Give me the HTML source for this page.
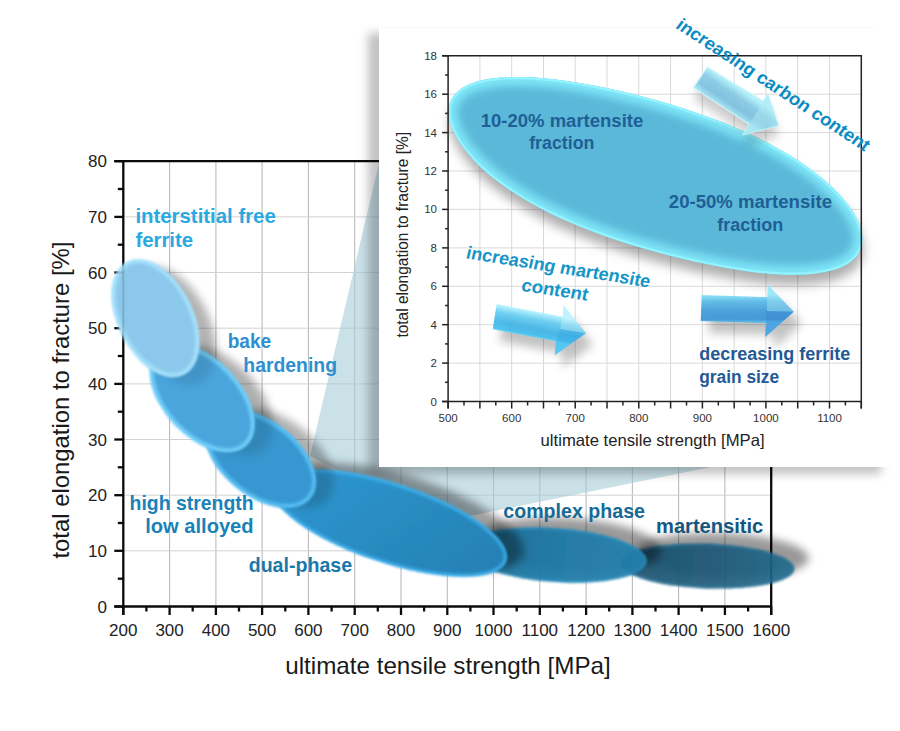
<!DOCTYPE html>
<html><head><meta charset="utf-8"><title>chart</title>
<style>html,body{margin:0;padding:0;background:#fff;}svg{display:block;}text{font-family:"Liberation Sans",sans-serif;}</style>
</head><body>
<svg width="900" height="731" viewBox="0 0 900 731">
<defs>
<filter id="sh" x="-30%" y="-60%" width="160%" height="220%"><feGaussianBlur stdDeviation="4.5"/></filter>
<filter id="shI" x="-10%" y="-10%" width="120%" height="120%"><feGaussianBlur stdDeviation="5"/></filter>
<filter id="rim" x="-10%" y="-10%" width="120%" height="120%"><feGaussianBlur stdDeviation="1.3"/></filter>
<filter id="rim2" x="-10%" y="-10%" width="120%" height="120%"><feGaussianBlur stdDeviation="4.5"/></filter>
<clipPath id="ci"><ellipse rx="215" ry="72"/></clipPath>
<clipPath id="cm"><rect x="123.3" y="161" width="647.9" height="445.5"/></clipPath>
<filter id="shE" x="-10%" y="-20%" width="120%" height="150%"><feGaussianBlur stdDeviation="5.5"/></filter>
<filter id="shA" x="-30%" y="-50%" width="160%" height="220%"><feGaussianBlur stdDeviation="5"/></filter>
<filter id="b1" x="-10%" y="-10%" width="120%" height="120%"><feGaussianBlur stdDeviation="0.7"/></filter>
<clipPath id="cI"><path d="M448.7,109.3 C449.0,106.0 449.8,102.7 451.3,99.7 C452.9,96.7 455.0,93.9 457.9,91.4 C460.7,88.9 464.3,86.6 468.5,84.8 C472.7,82.9 477.7,81.3 483.2,80.1 C488.6,78.9 494.8,78.0 501.3,77.5 C507.9,77.0 515.0,76.9 522.4,77.0 C529.7,77.2 537.5,77.7 545.3,78.4 C553.2,79.2 561.4,80.2 569.6,81.4 C577.8,82.6 586.1,84.1 594.5,85.7 C602.9,87.3 611.4,89.1 619.9,91.0 C628.5,93.0 637.1,95.1 645.7,97.4 C654.4,99.7 663.1,102.1 671.8,104.8 C680.6,107.5 689.4,110.3 698.1,113.4 C706.9,116.4 715.7,119.7 724.3,123.1 C732.9,126.6 741.4,130.3 749.7,134.1 C757.9,138.0 766.0,142.0 773.7,146.2 C781.3,150.4 788.7,154.7 795.6,159.1 C802.4,163.5 808.9,168.0 814.8,172.4 C820.6,176.9 826.0,181.5 830.9,186.0 C835.7,190.5 840.0,195.0 843.8,199.4 C847.5,203.8 850.7,208.2 853.4,212.4 C856.0,216.7 858.1,220.9 859.6,224.9 C861.1,228.9 862.0,232.9 862.3,236.6 C862.6,240.4 862.3,244.0 861.2,247.3 C860.2,250.7 858.5,253.9 856.0,256.7 C853.6,259.5 850.4,262.1 846.6,264.4 C842.7,266.6 838.1,268.5 833.0,270.0 C827.8,271.5 821.9,272.7 815.5,273.5 C809.2,274.3 802.2,274.7 795.0,274.7 C787.8,274.8 780.1,274.5 772.3,273.9 C764.6,273.4 756.4,272.5 748.4,271.4 C740.3,270.3 732.0,268.9 723.8,267.5 C715.7,266.0 707.4,264.3 699.2,262.6 C691.0,260.8 682.9,258.8 674.7,256.8 C666.5,254.8 658.3,252.6 650.2,250.3 C642.0,248.0 633.8,245.6 625.6,243.0 C617.4,240.4 609.2,237.6 601.1,234.7 C592.9,231.7 584.8,228.6 576.9,225.3 C568.9,222.0 561.0,218.5 553.5,214.9 C546.0,211.3 538.6,207.5 531.7,203.6 C524.8,199.7 518.1,195.6 512.0,191.6 C505.8,187.5 500.1,183.4 494.8,179.3 C489.6,175.1 484.8,171.0 480.4,166.9 C476.1,162.8 472.2,158.7 468.8,154.6 C465.3,150.6 462.3,146.6 459.7,142.6 C457.2,138.7 455.0,134.8 453.3,131.0 C451.5,127.2 450.2,123.4 449.5,119.8 C448.7,116.2 448.4,112.7 448.7,109.3 Z"/></clipPath>
<filter id="soft" x="-5%" y="-5%" width="110%" height="110%"><feGaussianBlur stdDeviation="0.9"/></filter>
<clipPath id="c6"><ellipse rx="87" ry="22.5"/></clipPath>
<clipPath id="c5"><ellipse rx="92" ry="27"/></clipPath>
<clipPath id="c4"><ellipse rx="123" ry="40"/></clipPath>
<clipPath id="c3"><ellipse rx="64" ry="38"/></clipPath>
<clipPath id="c2"><ellipse rx="65" ry="38.5"/></clipPath>
<clipPath id="c1"><ellipse rx="63.2" ry="37.7"/></clipPath>
<linearGradient id="gA1" gradientUnits="userSpaceOnUse" x1="707.3" y1="67" x2="693.3" y2="87.7"><stop offset="0" stop-color="#aaf0fa"/><stop offset="0.3" stop-color="#80c9e6"/><stop offset="0.7" stop-color="#78c2e3"/><stop offset="1" stop-color="#a2ecf8"/></linearGradient>
<linearGradient id="gA2" gradientUnits="userSpaceOnUse" x1="530" y1="311" x2="525.2" y2="336"><stop offset="0" stop-color="#b2f1ff"/><stop offset="0.28" stop-color="#66cdf1"/><stop offset="0.65" stop-color="#43b6e8"/><stop offset="0.9" stop-color="#45c0ee"/><stop offset="1" stop-color="#62dcfb"/></linearGradient>
<linearGradient id="gA3" gradientUnits="userSpaceOnUse" x1="0" y1="294.5" x2="0" y2="322"><stop offset="0" stop-color="#8fe6fb"/><stop offset="0.25" stop-color="#5cb9e6"/><stop offset="0.6" stop-color="#459fd9"/><stop offset="0.9" stop-color="#3f97d6"/><stop offset="1" stop-color="#58b8ec"/></linearGradient>
<linearGradient id="gE4" x1="0" y1="0" x2="1" y2="0.25"><stop offset="0" stop-color="#3199d4"/><stop offset="0.5" stop-color="#2a8ec4"/><stop offset="1" stop-color="#2682b6"/></linearGradient>
<linearGradient id="gE5" x1="0" y1="0" x2="1" y2="0"><stop offset="0" stop-color="#1b6a92"/><stop offset="0.45" stop-color="#1f79a5"/><stop offset="1" stop-color="#2381ae"/></linearGradient>
<linearGradient id="gE6" x1="0" y1="0" x2="1" y2="0"><stop offset="0" stop-color="#174c68"/><stop offset="0.6" stop-color="#1b5a7a"/><stop offset="1" stop-color="#216a8d"/></linearGradient>

</defs>
<rect x="0" y="0" width="900" height="731" fill="#ffffff"/>
<g stroke="#bcbcbc" stroke-width="1.1" fill="none">
<line x1="169.6" y1="161.2" x2="169.6" y2="606.5"/>
<line x1="215.9" y1="161.2" x2="215.9" y2="606.5"/>
<line x1="262.1" y1="161.2" x2="262.1" y2="606.5"/>
<line x1="308.4" y1="161.2" x2="308.4" y2="606.5"/>
<line x1="354.7" y1="161.2" x2="354.7" y2="606.5"/>
<line x1="401.0" y1="161.2" x2="401.0" y2="606.5"/>
<line x1="447.3" y1="161.2" x2="447.3" y2="606.5"/>
<line x1="493.5" y1="161.2" x2="493.5" y2="606.5"/>
<line x1="539.8" y1="161.2" x2="539.8" y2="606.5"/>
<line x1="586.1" y1="161.2" x2="586.1" y2="606.5"/>
<line x1="632.4" y1="161.2" x2="632.4" y2="606.5"/>
<line x1="678.6" y1="161.2" x2="678.6" y2="606.5"/>
<line x1="724.9" y1="161.2" x2="724.9" y2="606.5"/>
</g>
<g stroke="#d2d2d2" stroke-width="1" fill="none">
<line x1="123.3" y1="550.8" x2="771.2" y2="550.8"/>
<line x1="123.3" y1="495.2" x2="771.2" y2="495.2"/>
<line x1="123.3" y1="439.5" x2="771.2" y2="439.5"/>
<line x1="123.3" y1="383.9" x2="771.2" y2="383.9"/>
<line x1="123.3" y1="328.2" x2="771.2" y2="328.2"/>
<line x1="123.3" y1="272.5" x2="771.2" y2="272.5"/>
<line x1="123.3" y1="216.9" x2="771.2" y2="216.9"/>
</g>
<g stroke="#0a0a0a" stroke-width="2.3" fill="none" stroke-linecap="butt">
<path d="M114.3 161.2 H771.2 V615.0"/>
<path d="M123.3 161.2 V615.0"/>
<path d="M114.3 606.5 H771.2"/>
<line x1="123.3" y1="606.5" x2="123.3" y2="615.0"/>
<line x1="146.4" y1="606.5" x2="146.4" y2="611.5"/>
<line x1="169.6" y1="606.5" x2="169.6" y2="615.0"/>
<line x1="192.7" y1="606.5" x2="192.7" y2="611.5"/>
<line x1="215.9" y1="606.5" x2="215.9" y2="615.0"/>
<line x1="239.0" y1="606.5" x2="239.0" y2="611.5"/>
<line x1="262.1" y1="606.5" x2="262.1" y2="615.0"/>
<line x1="285.3" y1="606.5" x2="285.3" y2="611.5"/>
<line x1="308.4" y1="606.5" x2="308.4" y2="615.0"/>
<line x1="331.6" y1="606.5" x2="331.6" y2="611.5"/>
<line x1="354.7" y1="606.5" x2="354.7" y2="615.0"/>
<line x1="377.8" y1="606.5" x2="377.8" y2="611.5"/>
<line x1="401.0" y1="606.5" x2="401.0" y2="615.0"/>
<line x1="424.1" y1="606.5" x2="424.1" y2="611.5"/>
<line x1="447.3" y1="606.5" x2="447.3" y2="615.0"/>
<line x1="470.4" y1="606.5" x2="470.4" y2="611.5"/>
<line x1="493.5" y1="606.5" x2="493.5" y2="615.0"/>
<line x1="516.7" y1="606.5" x2="516.7" y2="611.5"/>
<line x1="539.8" y1="606.5" x2="539.8" y2="615.0"/>
<line x1="562.9" y1="606.5" x2="562.9" y2="611.5"/>
<line x1="586.1" y1="606.5" x2="586.1" y2="615.0"/>
<line x1="609.2" y1="606.5" x2="609.2" y2="611.5"/>
<line x1="632.4" y1="606.5" x2="632.4" y2="615.0"/>
<line x1="655.5" y1="606.5" x2="655.5" y2="611.5"/>
<line x1="678.6" y1="606.5" x2="678.6" y2="615.0"/>
<line x1="701.8" y1="606.5" x2="701.8" y2="611.5"/>
<line x1="724.9" y1="606.5" x2="724.9" y2="615.0"/>
<line x1="748.1" y1="606.5" x2="748.1" y2="611.5"/>
<line x1="771.2" y1="606.5" x2="771.2" y2="615.0"/>
<line x1="114.3" y1="606.5" x2="123.3" y2="606.5"/>
<line x1="117.8" y1="578.7" x2="123.3" y2="578.7"/>
<line x1="114.3" y1="550.8" x2="123.3" y2="550.8"/>
<line x1="117.8" y1="523.0" x2="123.3" y2="523.0"/>
<line x1="114.3" y1="495.2" x2="123.3" y2="495.2"/>
<line x1="117.8" y1="467.3" x2="123.3" y2="467.3"/>
<line x1="114.3" y1="439.5" x2="123.3" y2="439.5"/>
<line x1="117.8" y1="411.7" x2="123.3" y2="411.7"/>
<line x1="114.3" y1="383.9" x2="123.3" y2="383.9"/>
<line x1="117.8" y1="356.0" x2="123.3" y2="356.0"/>
<line x1="114.3" y1="328.2" x2="123.3" y2="328.2"/>
<line x1="117.8" y1="300.4" x2="123.3" y2="300.4"/>
<line x1="114.3" y1="272.5" x2="123.3" y2="272.5"/>
<line x1="117.8" y1="244.7" x2="123.3" y2="244.7"/>
<line x1="114.3" y1="216.9" x2="123.3" y2="216.9"/>
<line x1="117.8" y1="189.0" x2="123.3" y2="189.0"/>
<line x1="114.3" y1="161.2" x2="123.3" y2="161.2"/>
</g>
<g font-size="17" fill="#222" text-anchor="middle">
<text x="123.3" y="636">200</text>
<text x="169.6" y="636">300</text>
<text x="215.9" y="636">400</text>
<text x="262.1" y="636">500</text>
<text x="308.4" y="636">600</text>
<text x="354.7" y="636">700</text>
<text x="401.0" y="636">800</text>
<text x="447.3" y="636">900</text>
<text x="493.5" y="636">1000</text>
<text x="539.8" y="636">1100</text>
<text x="586.1" y="636">1200</text>
<text x="632.4" y="636">1300</text>
<text x="678.6" y="636">1400</text>
<text x="724.9" y="636">1500</text>
<text x="771.2" y="636">1600</text>
</g>
<g font-size="17" fill="#222" text-anchor="end">
<text x="107" y="612.5">0</text>
<text x="107" y="556.8">10</text>
<text x="107" y="501.2">20</text>
<text x="107" y="445.5">30</text>
<text x="107" y="389.9">40</text>
<text x="107" y="334.2">50</text>
<text x="107" y="278.5">60</text>
<text x="107" y="222.9">70</text>
<text x="107" y="167.2">80</text>
</g>
<text x="285.2" y="674" font-size="24" fill="#1a1a1a" textLength="325.6" lengthAdjust="spacingAndGlyphs">ultimate tensile strength [MPa]</text>
<text transform="translate(69.3,558.6) rotate(-90)" font-size="24" fill="#1a1a1a" textLength="317" lengthAdjust="spacingAndGlyphs">total elongation to fracture [%]</text>
<!-- zoom beam -->
<polygon points="310,456 379.5,161 379.5,467 711,467 440,522" fill="#a4ccd8" fill-opacity="0.58"/>
<!-- inset shadow -->
<rect x="368" y="33" width="513" height="441" fill="#000" fill-opacity="0.24" filter="url(#shI)"/>
<!-- base shadows -->
<ellipse transform="translate(278.3,458.5) rotate(38)" rx="64" ry="38" fill="#000" fill-opacity="0.17" filter="url(#sh)"/>
<ellipse transform="translate(219.8,400.7) rotate(47)" rx="65" ry="38.5" fill="#000" fill-opacity="0.22" filter="url(#sh)"/>
<ellipse transform="translate(171.6,325.8) rotate(63.4)" rx="63.2" ry="37.7" fill="#000" fill-opacity="0.22" filter="url(#sh)"/>
<ellipse transform="translate(721.9,555.5) rotate(2)" rx="87" ry="22.5" fill="#000" fill-opacity="0.4" filter="url(#sh)"/>
<g transform="translate(707.5,566) rotate(2)" opacity="0.9" filter="url(#soft)">
  <ellipse rx="87" ry="22.5" fill="url(#gE6)"/>
  <g clip-path="url(#c6)"><ellipse rx="87" ry="22.5" fill="none" stroke="#256f94" stroke-width="4" filter="url(#rim)"/></g>
</g>
<ellipse transform="translate(569.7,545.0) rotate(4)" rx="92" ry="27" fill="#000" fill-opacity="0.4" filter="url(#sh)"/>
<g transform="translate(555,555) rotate(4)" opacity="0.95" filter="url(#soft)">
  <ellipse rx="92" ry="27" fill="url(#gE5)"/>
  <g clip-path="url(#c5)"><ellipse rx="92" ry="27" fill="none" stroke="#2a8dbd" stroke-width="4" filter="url(#rim)"/></g>
</g>
<ellipse transform="translate(406.2,516.9) rotate(18)" rx="123" ry="40" fill="#000" fill-opacity="0.38" filter="url(#sh)"/>
<g transform="translate(389.5,523) rotate(18)" opacity="1" filter="url(#soft)">
  <ellipse rx="123" ry="40" fill="url(#gE4)"/>
  <g clip-path="url(#c4)"><ellipse rx="123" ry="40" fill="none" stroke="#3cb0ee" stroke-width="6" filter="url(#rim)"/></g>
</g>
<ellipse transform="translate(278.3,458.5) rotate(38)" rx="64" ry="38" fill="#000" fill-opacity="0.17" filter="url(#sh)"/>
<g transform="translate(260.5,458.5) rotate(38)" opacity="1" filter="url(#soft)">
  <ellipse rx="64" ry="38" fill="#3797d0"/>
  <g clip-path="url(#c3)"><ellipse rx="64" ry="38" fill="none" stroke="#56c0f5" stroke-width="8" filter="url(#rim)"/></g>
</g>
<ellipse transform="translate(219.8,400.7) rotate(47)" rx="65" ry="38.5" fill="#000" fill-opacity="0.12" filter="url(#sh)"/>
<g transform="translate(202.2,398) rotate(47)" opacity="1" filter="url(#soft)">
  <ellipse rx="65" ry="38.5" fill="#4aa5dc"/>
  <g clip-path="url(#c2)"><ellipse rx="65" ry="38.5" fill="none" stroke="#6fd0fb" stroke-width="8" filter="url(#rim)"/></g>
</g>
<ellipse transform="translate(171.6,325.8) rotate(63.4)" rx="63.2" ry="37.7" fill="#000" fill-opacity="0.1" filter="url(#sh)"/>
<g transform="translate(155.5,318.2) rotate(63.4)" opacity="1" filter="url(#soft)">
  <ellipse rx="63.2" ry="37.7" fill="#8cc8eb"/>
  <g clip-path="url(#c1)"><ellipse rx="63.2" ry="37.7" fill="none" stroke="#a6e2fc" stroke-width="8" filter="url(#rim)"/></g>
</g>
<g stroke="#000" stroke-opacity="0.13" stroke-width="2.3"><line x1="123.3" y1="262" x2="123.3" y2="345"/><line x1="114.3" y1="272.6" x2="123.3" y2="272.6"/></g>
<g font-weight="bold" font-size="21">
<text x="135.4" y="223.1" fill="#29a9e1" textLength="140.4" lengthAdjust="spacingAndGlyphs">interstitial free</text>
<text x="135.4" y="246.5" fill="#29a9e1" textLength="57.7" lengthAdjust="spacingAndGlyphs">ferrite</text>
<text x="227.7" y="347.9" fill="#2e8fd0" textLength="43.5" lengthAdjust="spacingAndGlyphs">bake</text>
<text x="243.3" y="371.9" fill="#2e8fd0" textLength="93.7" lengthAdjust="spacingAndGlyphs">hardening</text>
<text x="129.6" y="509.8" fill="#1a82b8" textLength="124" lengthAdjust="spacingAndGlyphs">high strength</text>
<text x="145.2" y="533.4" fill="#1a82b8" textLength="108.4" lengthAdjust="spacingAndGlyphs">low alloyed</text>
<text x="248.7" y="571.9" fill="#1a78ab" textLength="103.4" lengthAdjust="spacingAndGlyphs">dual-phase</text>
<text x="503.3" y="517.7" fill="#166a96" textLength="141.7" lengthAdjust="spacingAndGlyphs">complex phase</text>
<text x="656" y="533.3" fill="#14577e" textLength="107.3" lengthAdjust="spacingAndGlyphs">martensitic</text>
</g>

<rect x="379" y="12" width="516" height="455" fill="#ffffff"/>
<line x1="380" y1="27.5" x2="876" y2="27.5" stroke="#f8f8f8" stroke-width="1"/>

<g stroke="#d9d9d9" stroke-width="1" fill="none">
<line x1="479.9" y1="55.8" x2="479.9" y2="401.5"/>
<line x1="511.7" y1="55.8" x2="511.7" y2="401.5"/>
<line x1="543.5" y1="55.8" x2="543.5" y2="401.5"/>
<line x1="575.2" y1="55.8" x2="575.2" y2="401.5"/>
<line x1="607.0" y1="55.8" x2="607.0" y2="401.5"/>
<line x1="638.8" y1="55.8" x2="638.8" y2="401.5"/>
<line x1="670.6" y1="55.8" x2="670.6" y2="401.5"/>
<line x1="702.4" y1="55.8" x2="702.4" y2="401.5"/>
<line x1="734.2" y1="55.8" x2="734.2" y2="401.5"/>
<line x1="765.9" y1="55.8" x2="765.9" y2="401.5"/>
<line x1="797.7" y1="55.8" x2="797.7" y2="401.5"/>
<line x1="829.5" y1="55.8" x2="829.5" y2="401.5"/>
<line x1="448.1" y1="363.1" x2="861.3" y2="363.1"/>
<line x1="448.1" y1="324.7" x2="861.3" y2="324.7"/>
<line x1="448.1" y1="286.3" x2="861.3" y2="286.3"/>
<line x1="448.1" y1="247.9" x2="861.3" y2="247.9"/>
<line x1="448.1" y1="209.4" x2="861.3" y2="209.4"/>
<line x1="448.1" y1="171.0" x2="861.3" y2="171.0"/>
<line x1="448.1" y1="132.6" x2="861.3" y2="132.6"/>
<line x1="448.1" y1="94.2" x2="861.3" y2="94.2"/>
</g>
<!-- big ellipse -->
<path d="M448.7,109.3 C449.0,106.0 449.8,102.7 451.3,99.7 C452.9,96.7 455.0,93.9 457.9,91.4 C460.7,88.9 464.3,86.6 468.5,84.8 C472.7,82.9 477.7,81.3 483.2,80.1 C488.6,78.9 494.8,78.0 501.3,77.5 C507.9,77.0 515.0,76.9 522.4,77.0 C529.7,77.2 537.5,77.7 545.3,78.4 C553.2,79.2 561.4,80.2 569.6,81.4 C577.8,82.6 586.1,84.1 594.5,85.7 C602.9,87.3 611.4,89.1 619.9,91.0 C628.5,93.0 637.1,95.1 645.7,97.4 C654.4,99.7 663.1,102.1 671.8,104.8 C680.6,107.5 689.4,110.3 698.1,113.4 C706.9,116.4 715.7,119.7 724.3,123.1 C732.9,126.6 741.4,130.3 749.7,134.1 C757.9,138.0 766.0,142.0 773.7,146.2 C781.3,150.4 788.7,154.7 795.6,159.1 C802.4,163.5 808.9,168.0 814.8,172.4 C820.6,176.9 826.0,181.5 830.9,186.0 C835.7,190.5 840.0,195.0 843.8,199.4 C847.5,203.8 850.7,208.2 853.4,212.4 C856.0,216.7 858.1,220.9 859.6,224.9 C861.1,228.9 862.0,232.9 862.3,236.6 C862.6,240.4 862.3,244.0 861.2,247.3 C860.2,250.7 858.5,253.9 856.0,256.7 C853.6,259.5 850.4,262.1 846.6,264.4 C842.7,266.6 838.1,268.5 833.0,270.0 C827.8,271.5 821.9,272.7 815.5,273.5 C809.2,274.3 802.2,274.7 795.0,274.7 C787.8,274.8 780.1,274.5 772.3,273.9 C764.6,273.4 756.4,272.5 748.4,271.4 C740.3,270.3 732.0,268.9 723.8,267.5 C715.7,266.0 707.4,264.3 699.2,262.6 C691.0,260.8 682.9,258.8 674.7,256.8 C666.5,254.8 658.3,252.6 650.2,250.3 C642.0,248.0 633.8,245.6 625.6,243.0 C617.4,240.4 609.2,237.6 601.1,234.7 C592.9,231.7 584.8,228.6 576.9,225.3 C568.9,222.0 561.0,218.5 553.5,214.9 C546.0,211.3 538.6,207.5 531.7,203.6 C524.8,199.7 518.1,195.6 512.0,191.6 C505.8,187.5 500.1,183.4 494.8,179.3 C489.6,175.1 484.8,171.0 480.4,166.9 C476.1,162.8 472.2,158.7 468.8,154.6 C465.3,150.6 462.3,146.6 459.7,142.6 C457.2,138.7 455.0,134.8 453.3,131.0 C451.5,127.2 450.2,123.4 449.5,119.8 C448.7,116.2 448.4,112.7 448.7,109.3 Z" transform="translate(1,10)" fill="#000" fill-opacity="0.32" filter="url(#shE)"/>
<g>
  <path d="M448.7,109.3 C449.0,106.0 449.8,102.7 451.3,99.7 C452.9,96.7 455.0,93.9 457.9,91.4 C460.7,88.9 464.3,86.6 468.5,84.8 C472.7,82.9 477.7,81.3 483.2,80.1 C488.6,78.9 494.8,78.0 501.3,77.5 C507.9,77.0 515.0,76.9 522.4,77.0 C529.7,77.2 537.5,77.7 545.3,78.4 C553.2,79.2 561.4,80.2 569.6,81.4 C577.8,82.6 586.1,84.1 594.5,85.7 C602.9,87.3 611.4,89.1 619.9,91.0 C628.5,93.0 637.1,95.1 645.7,97.4 C654.4,99.7 663.1,102.1 671.8,104.8 C680.6,107.5 689.4,110.3 698.1,113.4 C706.9,116.4 715.7,119.7 724.3,123.1 C732.9,126.6 741.4,130.3 749.7,134.1 C757.9,138.0 766.0,142.0 773.7,146.2 C781.3,150.4 788.7,154.7 795.6,159.1 C802.4,163.5 808.9,168.0 814.8,172.4 C820.6,176.9 826.0,181.5 830.9,186.0 C835.7,190.5 840.0,195.0 843.8,199.4 C847.5,203.8 850.7,208.2 853.4,212.4 C856.0,216.7 858.1,220.9 859.6,224.9 C861.1,228.9 862.0,232.9 862.3,236.6 C862.6,240.4 862.3,244.0 861.2,247.3 C860.2,250.7 858.5,253.9 856.0,256.7 C853.6,259.5 850.4,262.1 846.6,264.4 C842.7,266.6 838.1,268.5 833.0,270.0 C827.8,271.5 821.9,272.7 815.5,273.5 C809.2,274.3 802.2,274.7 795.0,274.7 C787.8,274.8 780.1,274.5 772.3,273.9 C764.6,273.4 756.4,272.5 748.4,271.4 C740.3,270.3 732.0,268.9 723.8,267.5 C715.7,266.0 707.4,264.3 699.2,262.6 C691.0,260.8 682.9,258.8 674.7,256.8 C666.5,254.8 658.3,252.6 650.2,250.3 C642.0,248.0 633.8,245.6 625.6,243.0 C617.4,240.4 609.2,237.6 601.1,234.7 C592.9,231.7 584.8,228.6 576.9,225.3 C568.9,222.0 561.0,218.5 553.5,214.9 C546.0,211.3 538.6,207.5 531.7,203.6 C524.8,199.7 518.1,195.6 512.0,191.6 C505.8,187.5 500.1,183.4 494.8,179.3 C489.6,175.1 484.8,171.0 480.4,166.9 C476.1,162.8 472.2,158.7 468.8,154.6 C465.3,150.6 462.3,146.6 459.7,142.6 C457.2,138.7 455.0,134.8 453.3,131.0 C451.5,127.2 450.2,123.4 449.5,119.8 C448.7,116.2 448.4,112.7 448.7,109.3 Z" fill="#5bb8d8"/>
  <g clip-path="url(#cI)"><path d="M448.7,109.3 C449.0,106.0 449.8,102.7 451.3,99.7 C452.9,96.7 455.0,93.9 457.9,91.4 C460.7,88.9 464.3,86.6 468.5,84.8 C472.7,82.9 477.7,81.3 483.2,80.1 C488.6,78.9 494.8,78.0 501.3,77.5 C507.9,77.0 515.0,76.9 522.4,77.0 C529.7,77.2 537.5,77.7 545.3,78.4 C553.2,79.2 561.4,80.2 569.6,81.4 C577.8,82.6 586.1,84.1 594.5,85.7 C602.9,87.3 611.4,89.1 619.9,91.0 C628.5,93.0 637.1,95.1 645.7,97.4 C654.4,99.7 663.1,102.1 671.8,104.8 C680.6,107.5 689.4,110.3 698.1,113.4 C706.9,116.4 715.7,119.7 724.3,123.1 C732.9,126.6 741.4,130.3 749.7,134.1 C757.9,138.0 766.0,142.0 773.7,146.2 C781.3,150.4 788.7,154.7 795.6,159.1 C802.4,163.5 808.9,168.0 814.8,172.4 C820.6,176.9 826.0,181.5 830.9,186.0 C835.7,190.5 840.0,195.0 843.8,199.4 C847.5,203.8 850.7,208.2 853.4,212.4 C856.0,216.7 858.1,220.9 859.6,224.9 C861.1,228.9 862.0,232.9 862.3,236.6 C862.6,240.4 862.3,244.0 861.2,247.3 C860.2,250.7 858.5,253.9 856.0,256.7 C853.6,259.5 850.4,262.1 846.6,264.4 C842.7,266.6 838.1,268.5 833.0,270.0 C827.8,271.5 821.9,272.7 815.5,273.5 C809.2,274.3 802.2,274.7 795.0,274.7 C787.8,274.8 780.1,274.5 772.3,273.9 C764.6,273.4 756.4,272.5 748.4,271.4 C740.3,270.3 732.0,268.9 723.8,267.5 C715.7,266.0 707.4,264.3 699.2,262.6 C691.0,260.8 682.9,258.8 674.7,256.8 C666.5,254.8 658.3,252.6 650.2,250.3 C642.0,248.0 633.8,245.6 625.6,243.0 C617.4,240.4 609.2,237.6 601.1,234.7 C592.9,231.7 584.8,228.6 576.9,225.3 C568.9,222.0 561.0,218.5 553.5,214.9 C546.0,211.3 538.6,207.5 531.7,203.6 C524.8,199.7 518.1,195.6 512.0,191.6 C505.8,187.5 500.1,183.4 494.8,179.3 C489.6,175.1 484.8,171.0 480.4,166.9 C476.1,162.8 472.2,158.7 468.8,154.6 C465.3,150.6 462.3,146.6 459.7,142.6 C457.2,138.7 455.0,134.8 453.3,131.0 C451.5,127.2 450.2,123.4 449.5,119.8 C448.7,116.2 448.4,112.7 448.7,109.3 Z" fill="none" stroke="#7fe6f8" stroke-width="18" filter="url(#rim2)"/>
  <path d="M448.7,109.3 C449.0,106.0 449.8,102.7 451.3,99.7 C452.9,96.7 455.0,93.9 457.9,91.4 C460.7,88.9 464.3,86.6 468.5,84.8 C472.7,82.9 477.7,81.3 483.2,80.1 C488.6,78.9 494.8,78.0 501.3,77.5 C507.9,77.0 515.0,76.9 522.4,77.0 C529.7,77.2 537.5,77.7 545.3,78.4 C553.2,79.2 561.4,80.2 569.6,81.4 C577.8,82.6 586.1,84.1 594.5,85.7 C602.9,87.3 611.4,89.1 619.9,91.0 C628.5,93.0 637.1,95.1 645.7,97.4 C654.4,99.7 663.1,102.1 671.8,104.8 C680.6,107.5 689.4,110.3 698.1,113.4 C706.9,116.4 715.7,119.7 724.3,123.1 C732.9,126.6 741.4,130.3 749.7,134.1 C757.9,138.0 766.0,142.0 773.7,146.2 C781.3,150.4 788.7,154.7 795.6,159.1 C802.4,163.5 808.9,168.0 814.8,172.4 C820.6,176.9 826.0,181.5 830.9,186.0 C835.7,190.5 840.0,195.0 843.8,199.4 C847.5,203.8 850.7,208.2 853.4,212.4 C856.0,216.7 858.1,220.9 859.6,224.9 C861.1,228.9 862.0,232.9 862.3,236.6 C862.6,240.4 862.3,244.0 861.2,247.3 C860.2,250.7 858.5,253.9 856.0,256.7 C853.6,259.5 850.4,262.1 846.6,264.4 C842.7,266.6 838.1,268.5 833.0,270.0 C827.8,271.5 821.9,272.7 815.5,273.5 C809.2,274.3 802.2,274.7 795.0,274.7 C787.8,274.8 780.1,274.5 772.3,273.9 C764.6,273.4 756.4,272.5 748.4,271.4 C740.3,270.3 732.0,268.9 723.8,267.5 C715.7,266.0 707.4,264.3 699.2,262.6 C691.0,260.8 682.9,258.8 674.7,256.8 C666.5,254.8 658.3,252.6 650.2,250.3 C642.0,248.0 633.8,245.6 625.6,243.0 C617.4,240.4 609.2,237.6 601.1,234.7 C592.9,231.7 584.8,228.6 576.9,225.3 C568.9,222.0 561.0,218.5 553.5,214.9 C546.0,211.3 538.6,207.5 531.7,203.6 C524.8,199.7 518.1,195.6 512.0,191.6 C505.8,187.5 500.1,183.4 494.8,179.3 C489.6,175.1 484.8,171.0 480.4,166.9 C476.1,162.8 472.2,158.7 468.8,154.6 C465.3,150.6 462.3,146.6 459.7,142.6 C457.2,138.7 455.0,134.8 453.3,131.0 C451.5,127.2 450.2,123.4 449.5,119.8 C448.7,116.2 448.4,112.7 448.7,109.3 Z" fill="none" stroke="#93f3ff" stroke-width="4.5" filter="url(#b1)"/></g>
</g>
<!-- arrow 1 (top right, translucent) -->
<polygon points="707.3,67 763.3,101 768,93.7 778.7,125.7 742.7,135 749.3,124.3 693.3,87.7" transform="translate(0,11)" fill="#000" fill-opacity="0.2" filter="url(#shA)"/>
<g opacity="0.86">
<polygon points="707.3,67 763.3,101 768,93.7 778.7,125.7 742.7,135 749.3,124.3 693.3,87.7" fill="url(#gA1)" stroke="#cdf6fc" stroke-width="1.2" stroke-linejoin="round"/>
<polygon points="763.3,101 768,93.7 778.7,125.7 742.7,135 749.3,124.3" fill="#a6ecf7" fill-opacity="0.5"/>
</g>
<!-- arrow 2 (lower left) -->
<polygon points="496.7,304 562.7,316.7 563.3,304.7 586,333.3 554.7,355.3 556,341.3 492.7,329.3" transform="translate(7,12)" fill="#000" fill-opacity="0.24" filter="url(#shA)"/>
<g opacity="0.93">
<polygon points="496.7,304 562.7,316.7 563.3,304.7 586,333.3 554.7,355.3 556,341.3 492.7,329.3" fill="url(#gA2)"/>
<polygon points="562.7,316.7 563.3,304.7 586,333.3 560,329" fill="#d8faff" fill-opacity="0.3"/>
<polygon points="560,329 586,333.3 554.7,355.3 556,341.3" fill="#1f9be6" fill-opacity="0.3"/>
</g>
<!-- arrow 3 (lower right) -->
<polygon points="701.7,295 767.3,297 768,285 793.7,311.7 765.3,337 766.3,323 700.7,321" transform="translate(8,12)" fill="#000" fill-opacity="0.24" filter="url(#shA)"/>
<g opacity="0.95">
<polygon points="701.7,295 767.3,297 768,285 793.7,311.7 765.3,337 766.3,323 700.7,321" fill="url(#gA3)"/>
<polygon points="767.3,297 768,285 793.7,311.7 766.8,311" fill="#a8e8fb" fill-opacity="0.4"/>
<polygon points="766.8,311 793.7,311.7 765.3,337 766.3,323" fill="#2a78cf" fill-opacity="0.32"/>
</g>

<g stroke="#222" stroke-width="1.5" fill="none">
<path d="M442.1 55.8 H861.3 V408.5"/>
<path d="M448.1 55.8 V408.5"/>
<path d="M442.1 401.5 H861.3"/>
<line x1="448.1" y1="401.5" x2="448.1" y2="408.5"/>
<line x1="464.0" y1="401.5" x2="464.0" y2="405.5"/>
<line x1="479.9" y1="401.5" x2="479.9" y2="408.5"/>
<line x1="495.8" y1="401.5" x2="495.8" y2="405.5"/>
<line x1="511.7" y1="401.5" x2="511.7" y2="408.5"/>
<line x1="527.6" y1="401.5" x2="527.6" y2="405.5"/>
<line x1="543.5" y1="401.5" x2="543.5" y2="408.5"/>
<line x1="559.3" y1="401.5" x2="559.3" y2="405.5"/>
<line x1="575.2" y1="401.5" x2="575.2" y2="408.5"/>
<line x1="591.1" y1="401.5" x2="591.1" y2="405.5"/>
<line x1="607.0" y1="401.5" x2="607.0" y2="408.5"/>
<line x1="622.9" y1="401.5" x2="622.9" y2="405.5"/>
<line x1="638.8" y1="401.5" x2="638.8" y2="408.5"/>
<line x1="654.7" y1="401.5" x2="654.7" y2="405.5"/>
<line x1="670.6" y1="401.5" x2="670.6" y2="408.5"/>
<line x1="686.5" y1="401.5" x2="686.5" y2="405.5"/>
<line x1="702.4" y1="401.5" x2="702.4" y2="408.5"/>
<line x1="718.3" y1="401.5" x2="718.3" y2="405.5"/>
<line x1="734.2" y1="401.5" x2="734.2" y2="408.5"/>
<line x1="750.1" y1="401.5" x2="750.1" y2="405.5"/>
<line x1="765.9" y1="401.5" x2="765.9" y2="408.5"/>
<line x1="781.8" y1="401.5" x2="781.8" y2="405.5"/>
<line x1="797.7" y1="401.5" x2="797.7" y2="408.5"/>
<line x1="813.6" y1="401.5" x2="813.6" y2="405.5"/>
<line x1="829.5" y1="401.5" x2="829.5" y2="408.5"/>
<line x1="845.4" y1="401.5" x2="845.4" y2="405.5"/>
<line x1="861.3" y1="401.5" x2="861.3" y2="408.5"/>
<line x1="442.1" y1="401.5" x2="448.1" y2="401.5"/>
<line x1="445.1" y1="382.3" x2="448.1" y2="382.3"/>
<line x1="442.1" y1="363.1" x2="448.1" y2="363.1"/>
<line x1="445.1" y1="343.9" x2="448.1" y2="343.9"/>
<line x1="442.1" y1="324.7" x2="448.1" y2="324.7"/>
<line x1="445.1" y1="305.5" x2="448.1" y2="305.5"/>
<line x1="442.1" y1="286.3" x2="448.1" y2="286.3"/>
<line x1="445.1" y1="267.1" x2="448.1" y2="267.1"/>
<line x1="442.1" y1="247.9" x2="448.1" y2="247.9"/>
<line x1="445.1" y1="228.7" x2="448.1" y2="228.7"/>
<line x1="442.1" y1="209.4" x2="448.1" y2="209.4"/>
<line x1="445.1" y1="190.2" x2="448.1" y2="190.2"/>
<line x1="442.1" y1="171.0" x2="448.1" y2="171.0"/>
<line x1="445.1" y1="151.8" x2="448.1" y2="151.8"/>
<line x1="442.1" y1="132.6" x2="448.1" y2="132.6"/>
<line x1="445.1" y1="113.4" x2="448.1" y2="113.4"/>
<line x1="442.1" y1="94.2" x2="448.1" y2="94.2"/>
<line x1="445.1" y1="75.0" x2="448.1" y2="75.0"/>
<line x1="442.1" y1="55.8" x2="448.1" y2="55.8"/>
</g>
<g font-weight="bold" font-size="17.5" fill="#1f5f96">
<text x="480.7" y="126.7" textLength="162.6" lengthAdjust="spacingAndGlyphs">10-20% martensite</text>
<text x="529.2" y="149.3" textLength="65.3" lengthAdjust="spacingAndGlyphs">fraction</text>
<text x="668.8" y="208" textLength="163.2" lengthAdjust="spacingAndGlyphs">20-50% martensite</text>
<text x="717.3" y="230.7" textLength="66" lengthAdjust="spacingAndGlyphs">fraction</text>
</g>
<g font-weight="bold" font-size="17.5" fill="#235a96">
<text x="699.2" y="359.8" textLength="151" lengthAdjust="spacingAndGlyphs">decreasing ferrite</text>
<text x="699.2" y="382.5" textLength="80" lengthAdjust="spacingAndGlyphs">grain size</text>
</g>
<g font-weight="bold" font-size="18" fill="#1496c8">
<text transform="translate(465.3,258.2) rotate(9.05) skewX(-4)" textLength="186" lengthAdjust="spacingAndGlyphs">increasing martensite</text>
<text transform="translate(520.5,290.7) rotate(8.5) skewX(-4)" textLength="67" lengthAdjust="spacingAndGlyphs">content</text>
</g>
<g font-weight="bold" font-size="18" fill="#0a8cc3">
<text transform="translate(674.7,27.5) rotate(33.2) skewX(-4)" textLength="227" lengthAdjust="spacingAndGlyphs">increasing carbon content</text>
</g>

<g font-size="11.5" fill="#333" text-anchor="middle">
<text x="448.1" y="421.5">500</text>
<text x="511.7" y="421.5">600</text>
<text x="575.2" y="421.5">700</text>
<text x="638.8" y="421.5">800</text>
<text x="702.4" y="421.5">900</text>
<text x="765.9" y="421.5">1000</text>
<text x="829.5" y="421.5">1100</text>
</g>
<g font-size="11.5" fill="#333" text-anchor="end">
<text x="437" y="405.5">0</text>
<text x="437" y="367.1">2</text>
<text x="437" y="328.7">4</text>
<text x="437" y="290.3">6</text>
<text x="437" y="251.9">8</text>
<text x="437" y="213.4">10</text>
<text x="437" y="175.0">12</text>
<text x="437" y="136.6">14</text>
<text x="437" y="98.2">16</text>
<text x="437" y="59.8">18</text>
</g>
<text x="540.6" y="446.1" font-size="16.5" fill="#222" textLength="224" lengthAdjust="spacingAndGlyphs">ultimate tensile strength [MPa]</text>
<text transform="translate(408,337.6) rotate(-90)" font-size="16" fill="#222" textLength="205.6" lengthAdjust="spacingAndGlyphs">total elongation to fracture [%]</text>
</svg>
</body></html>
